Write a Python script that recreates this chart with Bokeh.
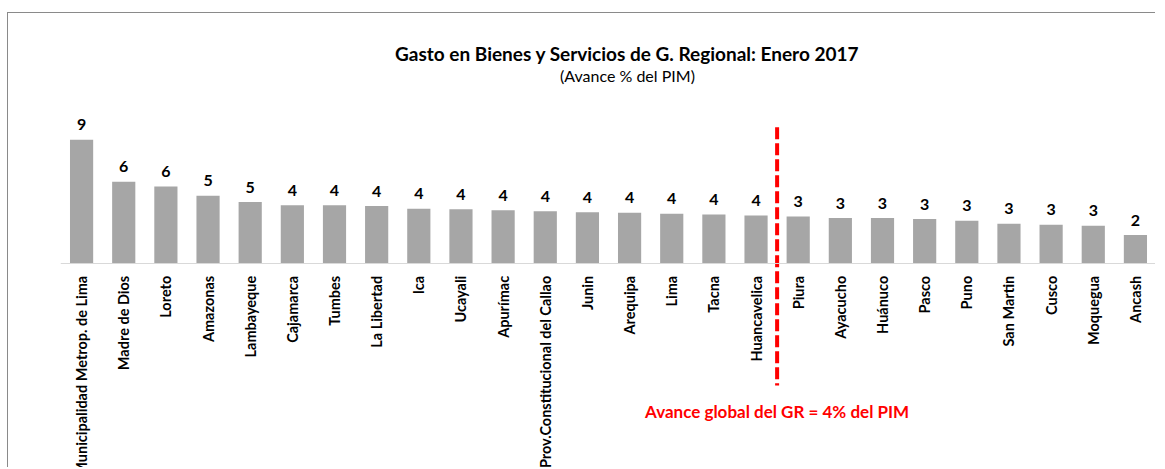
import math
from bokeh.plotting import figure
from bokeh.models import ColumnDataSource, LabelSet, Label, Range1d, FactorRange
from bokeh.core.properties import value
from bokeh.embed import file_html
from bokeh.resources import INLINE

# ---- data ----
regions = [
    "Municipalidad Metrop. de Lima", "Madre de Dios", "Loreto", "Amazonas",
    "Lambayeque", "Cajamarca", "Tumbes", "La Libertad", "Ica", "Ucayali",
    "Apurímac", "Prov.Constitucional del Callao", "Junin", "Arequipa", "Lima",
    "Tacna", "Huancavelica", "Piura", "Ayacucho", "Huánuco", "Pasco", "Puno",
    "San Martin", "Cusco", "Moquegua", "Ancash",
]
avance = [
    9.12, 6.03, 5.68, 5.00, 4.54, 4.31, 4.31, 4.24, 4.04, 4.01,
    3.94, 3.87, 3.79, 3.75, 3.68, 3.62, 3.55, 3.48, 3.36, 3.36,
    3.29, 3.16, 2.94, 2.87, 2.79, 2.11,
]
value_labels = [f"{v:.0f}" for v in avance]
title_text = "Gasto  en Bienes y Servicios de G. Regional: Enero 2017"
subtitle_text = "(Avance % del PIM)"
global_text = "Avance global del GR = 4% del PIM"
divider_after = "Huancavelica"

FONT = "Lato"

src = ColumnDataSource(dict(region=regions, avance=avance, label=value_labels))

p = figure(
    x_range=FactorRange(factors=regions, range_padding=0, factor_padding=0),
    y_range=Range1d(-15.05, 18.40),
    width=1148, height=455,
    output_backend="svg", toolbar_location=None,
    min_border_left=52, min_border_right=0, min_border_top=0, min_border_bottom=0,
)
p.styles = {"position": "relative", "left": "7px", "top": "12px",
            "border-top": "1px solid #8a8a8a", "border-left": "1px solid #8a8a8a"}
p.outline_line_color = None
p.grid.visible = False
p.yaxis.visible = False
p.background_fill_color = "white"
p.border_fill_color = "white"

p.vbar(x="region", top="avance", width=0.55, source=src,
       fill_color="#a6a6a6", line_color=None)

p.add_layout(LabelSet(x="region", y="avance", text="label", source=src,
                      text_align="center", text_baseline="middle", y_offset=15,
                      text_font=value(FONT), text_font_style="bold",
                      text_font_size="16px", text_color="black"))

# divider line between the groups
p.segment(x0=[(divider_after, 0.5)], x1=[(divider_after, 0.5)], y0=[10.03], y1=[-8.95],
          line_color="#ff0000", line_width=4, line_dash="12 4")

p.add_layout(Label(x=17.0, y=-10.86, text=global_text, text_align="center",
                   text_baseline="middle", text_font=FONT, text_font_style="bold",
                   text_font_size="17px", text_color="#ff0000"))

p.add_layout(Label(x=13.5, y=15.46, text=title_text, text_align="center",
                   text_baseline="middle", text_font=FONT, text_font_style="bold",
                   text_font_size="19px", text_color="black"))
p.add_layout(Label(x=13.45, y=13.84, text=subtitle_text, text_align="center",
                   text_baseline="middle", text_font=FONT,
                   text_font_size="16px", text_color="black"))

ax = p.xaxis[0]
ax.fixed_location = 0
ax.axis_line_color = "#d9d9d9"
ax.axis_line_width = 1
ax.major_tick_line_color = None
ax.minor_tick_line_color = None
ax.major_label_orientation = math.pi / 2
ax.major_label_standoff = 6
ax.major_label_text_font = FONT
ax.major_label_text_font_style = "bold"
ax.major_label_text_font_size = "14.5px"
ax.major_label_text_color = "black"

open("out.html", "w").write(file_html(p, INLINE))
